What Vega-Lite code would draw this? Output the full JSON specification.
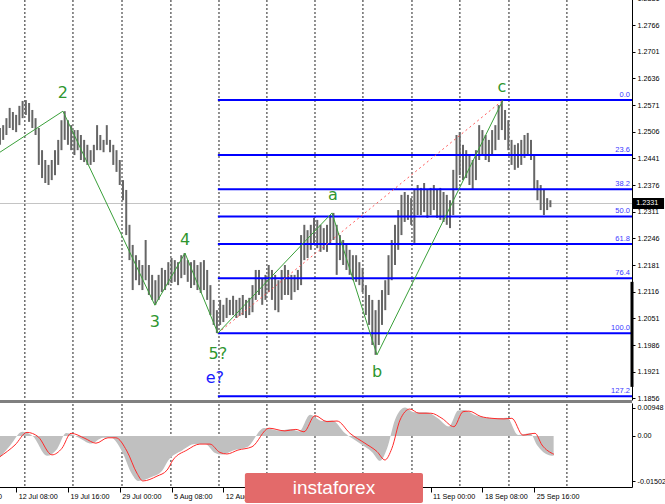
{
  "$schema": "https://vega.github.io/schema/vega-lite/v6.json",
  "width": 632,
  "height": 487,
  "autosize": {"type": "none"},
  "padding": {"left": 0, "top": 0, "right": 33, "bottom": 17},
  "background": "white",
  "config": {
    "view": {"stroke": null},
    "axis": {"labelFont": "Liberation Sans", "labelFontSize": 7.2, "labelColor": "#000000", "domainColor": "#000000", "tickColor": "#000000", "domainWidth": 1, "tickWidth": 1, "grid": false}
  },
  "datasets": {
    "grid": [{"g":15.4},{"g":45.1},{"g":75.4},{"g":105.6},{"g":135.3},{"g":164.9},{"g":194.6},{"g":224.2},{"g":254.5},{"g":284.1},{"g":314.4},{"g":350.2}],
    "bars": [
      {"i":0,"h":1.2515,"l":1.2474},{"i":2,"h":1.2522,"l":1.2486},{"i":4,"h":1.2539,"l":1.2498},{"i":6,"h":1.2564,"l":1.2515},
      {"i":8,"h":1.2554,"l":1.2510},{"i":10,"h":1.2547,"l":1.2505},{"i":12,"h":1.2569,"l":1.2522},{"i":14,"h":1.2581,"l":1.2539},
      {"i":16,"h":1.2583,"l":1.2547},{"i":18,"h":1.2576,"l":1.2530},{"i":20,"h":1.2559,"l":1.2515},{"i":22,"h":1.2539,"l":1.2498},
      {"i":24,"h":1.2515,"l":1.2425},{"i":26,"h":1.2461,"l":1.2393},{"i":28,"h":1.2437,"l":1.2381},{"i":30,"h":1.2425,"l":1.2376},
      {"i":32,"h":1.2437,"l":1.2388},{"i":34,"h":1.2461,"l":1.2400},{"i":36,"h":1.2486,"l":1.2425},{"i":38,"h":1.2534,"l":1.2461},
      {"i":40,"h":1.2556,"l":1.2486},{"i":42,"h":1.2534,"l":1.2474},{"i":44,"h":1.2522,"l":1.2461},{"i":46,"h":1.2510,"l":1.2449},
      {"i":48,"h":1.2510,"l":1.2461},{"i":50,"h":1.2498,"l":1.2437},{"i":52,"h":1.2486,"l":1.2432},{"i":54,"h":1.2474,"l":1.2425},
      {"i":56,"h":1.2461,"l":1.2425},{"i":58,"h":1.2474,"l":1.2432},{"i":60,"h":1.2522,"l":1.2461},{"i":62,"h":1.2498,"l":1.2461},
      {"i":64,"h":1.2486,"l":1.2456},{"i":66,"h":1.2522,"l":1.2474},{"i":68,"h":1.2486,"l":1.2456},{"i":70,"h":1.2474,"l":1.2425},
      {"i":72,"h":1.2461,"l":1.2408},{"i":74,"h":1.2437,"l":1.2376},{"i":76,"h":1.2388,"l":1.2339},{"i":78,"h":1.2364,"l":1.2254},
      {"i":80,"h":1.2279,"l":1.2193},{"i":82,"h":1.2230,"l":1.2120},{"i":84,"h":1.2205,"l":1.2144},{"i":86,"h":1.2193,"l":1.2132},
      {"i":88,"h":1.2181,"l":1.2120},{"i":90,"h":1.2242,"l":1.2144},{"i":92,"h":1.2181,"l":1.2108},{"i":94,"h":1.2157,"l":1.2096},
      {"i":96,"h":1.2144,"l":1.2084},{"i":98,"h":1.2157,"l":1.2096},{"i":100,"h":1.2174,"l":1.2115},{"i":102,"h":1.2169,"l":1.2120},
      {"i":104,"h":1.2188,"l":1.2132},{"i":106,"h":1.2198,"l":1.2137},{"i":108,"h":1.2193,"l":1.2140},{"i":110,"h":1.2188,"l":1.2132},
      {"i":112,"h":1.2205,"l":1.2149},{"i":114,"h":1.2210,"l":1.2157},{"i":116,"h":1.2193,"l":1.2140},{"i":118,"h":1.2188,"l":1.2125},
      {"i":120,"h":1.2193,"l":1.2132},{"i":122,"h":1.2181,"l":1.2120},{"i":124,"h":1.2188,"l":1.2113},{"i":126,"h":1.2193,"l":1.2120},
      {"i":128,"h":1.2169,"l":1.2096},{"i":130,"h":1.2132,"l":1.2059},{"i":132,"h":1.2096,"l":1.2035},{"i":134,"h":1.2071,"l":1.2015},
      {"i":136,"h":1.2096,"l":1.2035},{"i":138,"h":1.2084,"l":1.2042},{"i":140,"h":1.2101,"l":1.2052},{"i":142,"h":1.2096,"l":1.2059},
      {"i":144,"h":1.2106,"l":1.2059},{"i":146,"h":1.2096,"l":1.2052},{"i":148,"h":1.2101,"l":1.2057},{"i":150,"h":1.2108,"l":1.2059},
      {"i":152,"h":1.2096,"l":1.2052},{"i":154,"h":1.2101,"l":1.2059},{"i":156,"h":1.2132,"l":1.2066},{"i":158,"h":1.2169,"l":1.2096},
      {"i":160,"h":1.2169,"l":1.2108},{"i":162,"h":1.2149,"l":1.2084},{"i":164,"h":1.2157,"l":1.2096},{"i":166,"h":1.2181,"l":1.2115},
      {"i":168,"h":1.2169,"l":1.2096},{"i":170,"h":1.2157,"l":1.2071},{"i":172,"h":1.2144,"l":1.2066},{"i":174,"h":1.2169,"l":1.2096},
      {"i":176,"h":1.2181,"l":1.2108},{"i":178,"h":1.2169,"l":1.2108},{"i":180,"h":1.2157,"l":1.2096},{"i":182,"h":1.2157,"l":1.2115},
      {"i":184,"h":1.2169,"l":1.2120},{"i":186,"h":1.2254,"l":1.2132},{"i":188,"h":1.2279,"l":1.2193},{"i":190,"h":1.2266,"l":1.2198},
      {"i":192,"h":1.2279,"l":1.2218},{"i":194,"h":1.2296,"l":1.2230},{"i":196,"h":1.2291,"l":1.2222},{"i":198,"h":1.2279,"l":1.2213},
      {"i":200,"h":1.2271,"l":1.2218},{"i":202,"h":1.2279,"l":1.2213},{"i":204,"h":1.2303,"l":1.2230},{"i":206,"h":1.2308,"l":1.2242},
      {"i":208,"h":1.2279,"l":1.2157},{"i":210,"h":1.2254,"l":1.2193},{"i":212,"h":1.2242,"l":1.2181},{"i":214,"h":1.2230,"l":1.2169},
      {"i":216,"h":1.2218,"l":1.2157},{"i":218,"h":1.2205,"l":1.2144},{"i":220,"h":1.2205,"l":1.2140},{"i":222,"h":1.2188,"l":1.2132},
      {"i":224,"h":1.2174,"l":1.2115},{"i":226,"h":1.2132,"l":1.2059},{"i":228,"h":1.2108,"l":1.2035},{"i":230,"h":1.2096,"l":1.1986},
      {"i":232,"h":1.2071,"l":1.1962},{"i":234,"h":1.2096,"l":1.1986},{"i":236,"h":1.2120,"l":1.2035},{"i":238,"h":1.2144,"l":1.2071},
      {"i":240,"h":1.2205,"l":1.2108},{"i":242,"h":1.2242,"l":1.2144},{"i":244,"h":1.2279,"l":1.2181},{"i":246,"h":1.2315,"l":1.2218},
      {"i":248,"h":1.2352,"l":1.2254},{"i":250,"h":1.2359,"l":1.2286},{"i":252,"h":1.2352,"l":1.2291},{"i":254,"h":1.2344,"l":1.2279},
      {"i":256,"h":1.2364,"l":1.2235},{"i":258,"h":1.2376,"l":1.2303},{"i":260,"h":1.2369,"l":1.2303},{"i":262,"h":1.2381,"l":1.2310},
      {"i":264,"h":1.2364,"l":1.2296},{"i":266,"h":1.2369,"l":1.2303},{"i":268,"h":1.2376,"l":1.2315},{"i":270,"h":1.2364,"l":1.2296},
      {"i":272,"h":1.2369,"l":1.2291},{"i":274,"h":1.2359,"l":1.2286},{"i":276,"h":1.2352,"l":1.2279},{"i":278,"h":1.2339,"l":1.2271},
      {"i":280,"h":1.2413,"l":1.2303},{"i":282,"h":1.2498,"l":1.2364},{"i":284,"h":1.2505,"l":1.2400},{"i":286,"h":1.2474,"l":1.2388},
      {"i":288,"h":1.2461,"l":1.2393},{"i":290,"h":1.2449,"l":1.2376},{"i":292,"h":1.2437,"l":1.2364},{"i":294,"h":1.2461,"l":1.2388},
      {"i":296,"h":1.2522,"l":1.2437},{"i":298,"h":1.2510,"l":1.2449},{"i":300,"h":1.2498,"l":1.2437},{"i":302,"h":1.2486,"l":1.2432},
      {"i":304,"h":1.2510,"l":1.2449},{"i":306,"h":1.2522,"l":1.2461},{"i":308,"h":1.2571,"l":1.2486},{"i":310,"h":1.2581,"l":1.2510},
      {"i":312,"h":1.2559,"l":1.2486},{"i":314,"h":1.2534,"l":1.2461},{"i":316,"h":1.2486,"l":1.2425},{"i":318,"h":1.2474,"l":1.2413},
      {"i":320,"h":1.2478,"l":1.2418},{"i":322,"h":1.2486,"l":1.2425},{"i":324,"h":1.2498,"l":1.2442},{"i":326,"h":1.2503,"l":1.2449},
      {"i":328,"h":1.2486,"l":1.2437},{"i":330,"h":1.2449,"l":1.2364},{"i":332,"h":1.2388,"l":1.2339},{"i":334,"h":1.2376,"l":1.2315},
      {"i":336,"h":1.2364,"l":1.2303},{"i":338,"h":1.2344,"l":1.2315},{"i":340,"h":1.2339,"l":1.2322}
    ],
    "fib": [
      {"r":"0.0","p":1.2583},{"r":"23.6","p":1.2449},{"r":"38.2","p":1.2366},{"r":"50.0","p":1.2299},
      {"r":"61.8","p":1.2232},{"r":"76.4","p":1.2149},{"r":"100.0","p":1.2015},{"r":"127.2","p":1.1861}
    ],
    "waves": [
      {"i":0,"p":1.2456},{"i":38.9,"p":1.2556},{"i":95.7,"p":1.2083},{"i":114.3,"p":1.2210},
      {"i":134.6,"p":1.2015},{"i":205.1,"p":1.2308},{"i":232.9,"p":1.1962},{"i":310.7,"p":1.2583}
    ],
    "diag": [{"i":134.6,"p":1.2015},{"i":310.7,"p":1.2583}],
    "labels": [
      {"t":"2","i":38.9,"p":1.2600,"k":"wave"},{"t":"3","i":95.7,"p":1.2042,"k":"wave"},
      {"t":"4","i":114.3,"p":1.2242,"k":"wave"},{"t":"5?","i":134.6,"p":1.1964,"k":"wave"},
      {"t":"e?","i":132.8,"p":1.1906,"k":"alt"},{"t":"a","i":205.7,"p":1.2352,"k":"wave"},
      {"t":"b","i":232.9,"p":1.1920,"k":"wave"},{"t":"c","i":310.1,"p":1.2615,"k":"wave"}
    ],
    "hist": [
      {"i":0,"m":-0.0072},{"i":6.3,"m":-0.0032},{"i":13.7,"m":0.0014},{"i":20.5,"m":-0.0002},{"i":29.1,"m":-0.0066},
      {"i":35.3,"m":-0.0043},{"i":40.9,"m":0.0010},{"i":49.5,"m":-0.0008},{"i":56.3,"m":-0.0025},{"i":63.7,"m":-0.0006},
      {"i":68.6,"m":-0.0006},{"i":75.4,"m":-0.0052},{"i":81.6,"m":-0.0128},{"i":85.3,"m":-0.0150},{"i":94,"m":-0.0136},
      {"i":100.2,"m":-0.0116},{"i":103.9,"m":-0.0082},{"i":112.5,"m":-0.0048},{"i":120.5,"m":-0.0027},{"i":126.7,"m":-0.0027},
      {"i":132.9,"m":-0.0057},{"i":137.2,"m":-0.0062},{"i":144,"m":-0.0048},{"i":152.7,"m":-0.0037},{"i":163.2,"m":0.0027},
      {"i":173,"m":0.0018},{"i":179.8,"m":0.0023},{"i":184.8,"m":0.0015},{"i":191.6,"m":0.0071},{"i":199,"m":0.0050},
      {"i":205.2,"m":0.0052},{"i":213.2,"m":0.0009},{"i":222.4,"m":-0.0025},{"i":229.9,"m":-0.0054},{"i":234.8,"m":-0.0083},
      {"i":239.1,"m":-0.0042},{"i":244.1,"m":0.0055},{"i":250.2,"m":0.0095},{"i":255.8,"m":0.0079},{"i":263.2,"m":0.0079},
      {"i":270,"m":0.0061},{"i":277.4,"m":0.0032},{"i":283,"m":0.0085},{"i":286.7,"m":0.0087},{"i":294.1,"m":0.0068},
      {"i":300.9,"m":0.0061},{"i":308.3,"m":0.0059},{"i":313.2,"m":0.0061},{"i":320,"m":0.0003},{"i":327.5,"m":0.0009},
      {"i":331.8,"m":-0.0031},{"i":339.2,"m":-0.0064},{"i":342,"m":-0.0066}
    ],
    "sig": [
      {"i":0,"s":-0.0069},{"i":9.3,"s":-0.0030},{"i":16.7,"s":0.0012},{"i":23.5,"s":-0.0002},{"i":32.1,"s":-0.0063},
      {"i":38.3,"s":-0.0041},{"i":43.9,"s":0.0009},{"i":52.5,"s":-0.0008},{"i":59.3,"s":-0.0024},{"i":66.7,"s":-0.0006},
      {"i":71.6,"s":-0.0006},{"i":78.4,"s":-0.0050},{"i":84.6,"s":-0.0124},{"i":88.3,"s":-0.0150},{"i":97,"s":-0.0134},
      {"i":103.2,"s":-0.0114},{"i":106.9,"s":-0.0080},{"i":115.5,"s":-0.0047},{"i":123.5,"s":-0.0027},{"i":129.7,"s":-0.0027},
      {"i":135.9,"s":-0.0055},{"i":140.2,"s":-0.0060},{"i":147,"s":-0.0047},{"i":155.7,"s":-0.0036},{"i":166.2,"s":0.0026},
      {"i":176,"s":0.0017},{"i":182.8,"s":0.0022},{"i":187.8,"s":0.0014},{"i":194.6,"s":0.0068},{"i":202,"s":0.0048},
      {"i":208.2,"s":0.0050},{"i":216.2,"s":0.0009},{"i":225.4,"s":-0.0024},{"i":232.9,"s":-0.0052},{"i":237.8,"s":-0.0080},
      {"i":242.1,"s":-0.0041},{"i":247.1,"s":0.0053},{"i":253.2,"s":0.0090},{"i":258.8,"s":0.0076},{"i":266.2,"s":0.0076},
      {"i":273,"s":0.0059},{"i":280.4,"s":0.0031},{"i":286,"s":0.0081},{"i":289.7,"s":0.0083},{"i":297.1,"s":0.0065},
      {"i":303.9,"s":0.0059},{"i":311.3,"s":0.0057},{"i":316.2,"s":0.0059},{"i":323,"s":0.0003},{"i":330.5,"s":0.0009},
      {"i":334.8,"s":-0.0030},{"i":342.2,"s":-0.0061}
    ]
  },
  "resolve": {"scale": {"y": "independent"}, "axis": {"y": "independent"}},
  "layer": [
    {
      "data": {"name": "grid"},
      "mark": {"type": "rule", "color": "#222222", "strokeDash": [2, 2], "strokeWidth": 1},
      "encoding": {"x": {"field": "g", "type": "quantitative", "scale": {"domain": [-22.2, 390.4], "range": [-36, 632], "nice": false, "zero": false}}}
    },
    {
      "data": {"values": [{"v": 1.2331}]},
      "mark": {"type": "rule", "color": "#c4c4c4", "strokeWidth": 1},
      "encoding": {"y": {"field": "v", "type": "quantitative", "scale": {"domain": [1.1852, 1.28319], "range": [400, -2], "nice": false, "zero": false}, "axis": null}}
    },
    {
      "data": {"name": "bars"},
      "mark": {"type": "rule", "color": "#666666", "strokeWidth": 2},
      "encoding": {
        "x": {"field": "i", "type": "quantitative", "scale": {"domain": [-22.2, 390.4], "range": [-36, 632], "nice": false, "zero": false},
          "axis": {"orient": "bottom", "title": null, "values": [-22, 10, 42, 74, 106, 138, 266, 298, 330],
            "labelExpr": "datum.value < 0 ? '5 Jul 00:00' : datum.value < 20 ? '12 Jul 08:00' : datum.value < 50 ? '19 Jul 16:00' : datum.value < 80 ? '29 Jul 00:00' : datum.value < 110 ? '5 Aug 08:00' : datum.value < 150 ? '12 Aug 16:00' : datum.value < 280 ? '11 Sep 00:00' : datum.value < 310 ? '18 Sep 08:00' : '25 Sep 16:00'",
            "labelAlign": "left", "labelOffset": 2, "labelBaseline": "top", "labelPadding": 0, "tickSize": 5, "labelFlush": false, "labelOverlap": false}},
        "y": {"field": "h", "type": "quantitative", "scale": {"domain": [1.1852, 1.28319], "range": [400, -2], "nice": false, "zero": false},
          "axis": {"orient": "right", "title": null, "values": [1.1856, 1.1921, 1.1986, 1.2051, 1.2116, 1.2181, 1.2246, 1.2311, 1.2376, 1.2441, 1.2506, 1.2571, 1.2636, 1.2701, 1.2766, 1.2831],
            "format": ".4f", "tickSize": 3, "labelPadding": 2, "labelFlush": false, "labelOverlap": false}},
        "y2": {"field": "l"}
      }
    },
    {
      "data": {"name": "fib"},
      "mark": {"type": "rule", "color": "#0000ff", "strokeWidth": 2},
      "encoding": {
        "x": {"datum": 134.6, "type": "quantitative", "scale": {"domain": [-22.2, 390.4], "range": [-36, 632], "nice": false, "zero": false}},
        "x2": {"datum": 390.4},
        "y": {"field": "p", "type": "quantitative", "scale": {"domain": [1.1852, 1.28319], "range": [400, -2], "nice": false, "zero": false}, "axis": null}
      }
    },
    {
      "data": {"name": "fib"},
      "mark": {"type": "text", "color": "#3a3aff", "font": "Liberation Sans", "fontSize": 7.5, "align": "right", "baseline": "bottom", "dy": -1.5},
      "encoding": {
        "x": {"datum": 389.1, "type": "quantitative", "scale": {"domain": [-22.2, 390.4], "range": [-36, 632], "nice": false, "zero": false}},
        "y": {"field": "p", "type": "quantitative", "scale": {"domain": [1.1852, 1.28319], "range": [400, -2], "nice": false, "zero": false}, "axis": null},
        "text": {"field": "r"}
      }
    },
    {
      "data": {"name": "diag"},
      "mark": {"type": "line", "color": "#ff5a5a", "strokeWidth": 1, "strokeDash": [2, 3]},
      "encoding": {
        "x": {"field": "i", "type": "quantitative", "scale": {"domain": [-22.2, 390.4], "range": [-36, 632], "nice": false, "zero": false}},
        "y": {"field": "p", "type": "quantitative", "scale": {"domain": [1.1852, 1.28319], "range": [400, -2], "nice": false, "zero": false}, "axis": null}
      }
    },
    {
      "data": {"name": "waves"},
      "mark": {"type": "line", "color": "#3aa03a", "strokeWidth": 1},
      "encoding": {
        "x": {"field": "i", "type": "quantitative", "scale": {"domain": [-22.2, 390.4], "range": [-36, 632], "nice": false, "zero": false}},
        "y": {"field": "p", "type": "quantitative", "scale": {"domain": [1.1852, 1.28319], "range": [400, -2], "nice": false, "zero": false}, "axis": null}
      }
    },
    {
      "data": {"name": "labels"},
      "mark": {"type": "text", "font": "DejaVu Sans", "fontSize": 16, "align": "center", "baseline": "middle"},
      "encoding": {
        "x": {"field": "i", "type": "quantitative", "scale": {"domain": [-22.2, 390.4], "range": [-36, 632], "nice": false, "zero": false}},
        "y": {"field": "p", "type": "quantitative", "scale": {"domain": [1.1852, 1.28319], "range": [400, -2], "nice": false, "zero": false}, "axis": null},
        "text": {"field": "t"},
        "color": {"field": "k", "type": "nominal", "scale": {"domain": ["wave", "alt"], "range": ["#2f962f", "#1a1aff"]}, "legend": null}
      }
    },
    {
      "data": {"values": [{"a": 1.2140, "b": 1.1884}]},
      "mark": {"type": "rule", "color": "#000000", "strokeWidth": 3},
      "encoding": {
        "x": {"datum": 390.4, "type": "quantitative", "scale": {"domain": [-22.2, 390.4], "range": [-36, 632], "nice": false, "zero": false}},
        "y": {"field": "a", "type": "quantitative", "scale": {"domain": [1.1852, 1.28319], "range": [400, -2], "nice": false, "zero": false}, "axis": null},
        "y2": {"field": "b"}
      }
    },
    {
      "data": {"values": [{"v": 1.18483}]},
      "mark": {"type": "rule", "color": "#808080", "strokeWidth": 3},
      "encoding": {"y": {"field": "v", "type": "quantitative", "scale": {"domain": [1.1852, 1.28319], "range": [400, -2], "nice": false, "zero": false}, "axis": null}}
    },
    {
      "data": {"values": [{"a": 1.23444, "b": 1.23176}]},
      "mark": {"type": "rect", "color": "#000000"},
      "encoding": {
        "x": {"datum": 390.4, "type": "quantitative", "scale": {"domain": [-22.2, 390.4], "range": [-36, 632], "nice": false, "zero": false}},
        "x2": {"datum": 410.2},
        "y": {"field": "a", "type": "quantitative", "scale": {"domain": [1.1852, 1.28319], "range": [400, -2], "nice": false, "zero": false}, "axis": null},
        "y2": {"field": "b"}
      }
    },
    {
      "data": {"values": [{"v": 1.2331, "t": "1.2331"}]},
      "mark": {"type": "text", "color": "#ffffff", "font": "Liberation Sans", "fontSize": 7.2, "align": "left", "baseline": "middle"},
      "encoding": {
        "x": {"datum": 393.0, "type": "quantitative", "scale": {"domain": [-22.2, 390.4], "range": [-36, 632], "nice": false, "zero": false}},
        "y": {"field": "v", "type": "quantitative", "scale": {"domain": [1.1852, 1.28319], "range": [400, -2], "nice": false, "zero": false}, "axis": null},
        "text": {"field": "t"}
      }
    },
    {
      "data": {"name": "hist"},
      "mark": {"type": "area", "color": "#c0c0c0", "interpolate": "monotone"},
      "encoding": {
        "x": {"field": "i", "type": "quantitative", "scale": {"domain": [-22.2, 390.4], "range": [-36, 632], "nice": false, "zero": false}},
        "y": {"field": "m", "type": "quantitative", "scale": {"domain": [-0.01702, 0.01101], "range": [487, 403], "nice": false, "zero": false}, "axis": null},
        "y2": {"datum": 0}
      }
    },
    {
      "data": {"name": "sig"},
      "mark": {"type": "line", "color": "#ff2a2a", "strokeWidth": 1, "interpolate": "monotone"},
      "encoding": {
        "x": {"field": "i", "type": "quantitative", "scale": {"domain": [-22.2, 390.4], "range": [-36, 632], "nice": false, "zero": false}},
        "y": {"field": "s", "type": "quantitative", "scale": {"domain": [-0.01702, 0.01101], "range": [487, 403], "nice": false, "zero": false},
          "axis": {"orient": "right", "title": null, "values": [0.00948, 0, -0.01502],
            "labelExpr": "datum.value > 0.005 ? '0.00948' : (datum.value < -0.005 ? '-0.01502' : '0.00')",
            "tickSize": 3, "labelPadding": 2, "labelFlush": false, "labelOverlap": false}}
      }
    },
    {
      "data": {"values": [{"a": -0.01235, "b": -0.0224}]},
      "mark": {"type": "rect", "color": "#e36a6a", "cornerRadius": 2},
      "encoding": {
        "x": {"datum": 151.3, "type": "quantitative", "scale": {"domain": [-22.2, 390.4], "range": [-36, 632], "nice": false, "zero": false}},
        "x2": {"datum": 261.3},
        "y": {"field": "a", "type": "quantitative", "scale": {"domain": [-0.01702, 0.01101], "range": [487, 403], "nice": false, "zero": false}, "axis": null},
        "y2": {"field": "b"}
      }
    },
    {
      "data": {"values": [{"v": -0.01736, "t": "instaforex"}]},
      "mark": {"type": "text", "color": "#ffffff", "font": "Liberation Sans", "fontSize": 19, "align": "center", "baseline": "middle"},
      "encoding": {
        "x": {"datum": 206.3, "type": "quantitative", "scale": {"domain": [-22.2, 390.4], "range": [-36, 632], "nice": false, "zero": false}},
        "y": {"field": "v", "type": "quantitative", "scale": {"domain": [-0.01702, 0.01101], "range": [487, 403], "nice": false, "zero": false}, "axis": null},
        "text": {"field": "t"}
      }
    }
  ]
}
